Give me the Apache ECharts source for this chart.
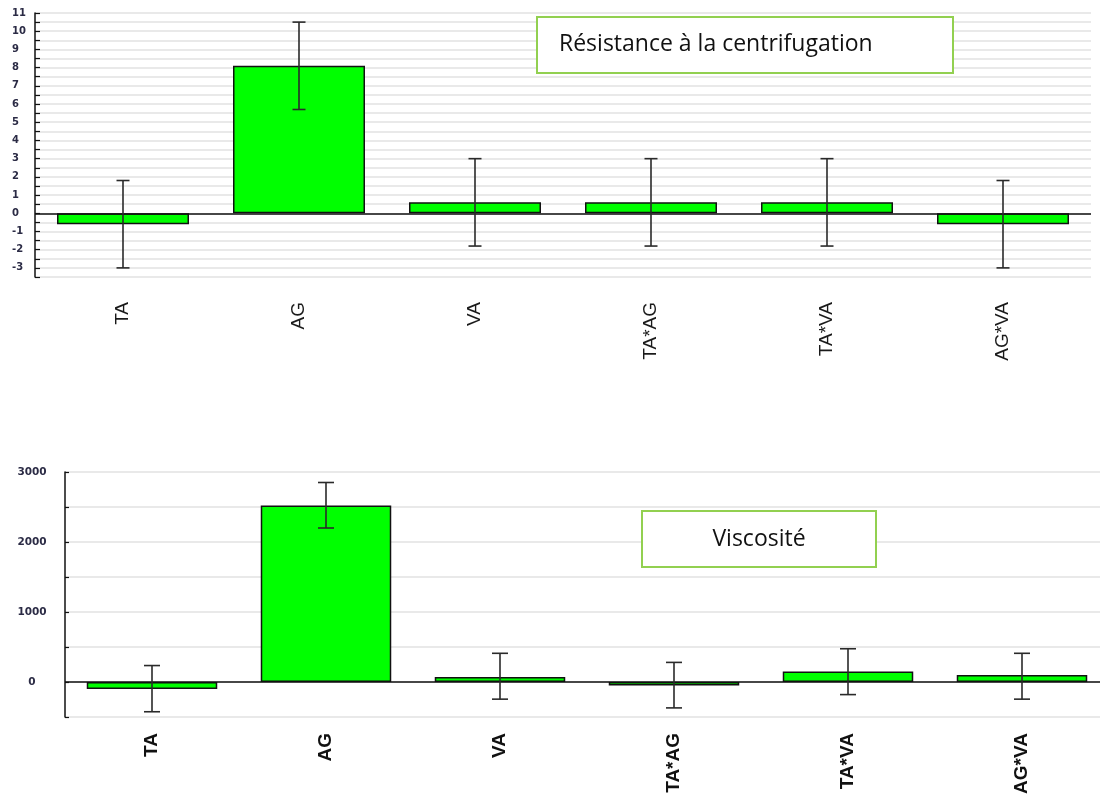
<!DOCTYPE html>
<html>
<head>
<meta charset="utf-8">
<script src="https://cdn.jsdelivr.net/npm/echarts@6/dist/echarts.min.js"></script>
<style>
html,body{margin:0;padding:0;background:#fff;}
#chart{width:1100px;height:804px;}
</style>
</head>
<body>
<div id="chart"></div>
<script>
// ---- data ----
const categories = ['TA', 'AG', 'VA', 'TA*AG', 'TA*VA', 'AG*VA'];

const resTitle = 'Résistance à la centrifugation';
const resValues = [-0.6, 8.1, 0.6, 0.6, 0.6, -0.6];
const resErrLow = [-3.0, 5.7, -1.8, -1.8, -1.8, -3.0];
const resErrHigh = [1.8, 10.5, 3.0, 3.0, 3.0, 1.8];

const viscTitle = 'Viscosité';
const viscValues = [-100, 2520, 70, -50, 150, 100];
const viscErrLow = [-425, 2200, -245, -370, -180, -245];
const viscErrHigh = [235, 2850, 410, 280, 475, 410];

// ---- chart ----
const chart = echarts.init(document.getElementById('chart'), null, {renderer: 'canvas'});

function errData(lo, hi) {
  return lo.map((v, i) => [i, v, hi[i]]);
}
function errRender(capW) {
  return function (params, api) {
    const i = api.value(0);
    const top = api.coord([i, api.value(2)]);
    const bot = api.coord([i, api.value(1)]);
    const st = {stroke: '#2a2a2a', lineWidth: 1.6};
    return {
      type: 'group',
      children: [
        {type: 'line', shape: {x1: top[0], y1: top[1], x2: bot[0], y2: bot[1]}, style: st},
        {type: 'line', shape: {x1: top[0] - capW / 2, y1: top[1], x2: top[0] + capW / 2, y2: top[1]}, style: st},
        {type: 'line', shape: {x1: bot[0] - capW / 2, y1: bot[1], x2: bot[0] + capW / 2, y2: bot[1]}, style: st}
      ]
    };
  };
}

const zeroLine = {
  silent: true,
  symbol: ['none', 'none'],
  label: {show: false},
  lineStyle: {color: '#111', width: 1.5, type: 'solid'},
  data: [{yAxis: 0}]
};

const barStyle = {color: '#00ff00', borderColor: '#111', borderWidth: 1.5};

// fit box title widths
const ctx = document.createElement('canvas').getContext('2d');
function fitSize(text, family, targetW) {
  ctx.font = '100px ' + family;
  const w = ctx.measureText(text).width;
  return 100 * targetW / w;
}
const boxFont = '"Open Sans", "Noto Sans", sans-serif';
const boxFontSize = Math.round(fitSize(resTitle, '"Open Sans"', 314) * 10) / 10;

const option = {
  animation: false,
  backgroundColor: '#fff',
  grid: [
    {left: 35, width: 1056, top: 13, height: 264, outerBoundsMode: 'none', containLabel: false},
    {left: 65, width: 1044, top: 472, height: 245, outerBoundsMode: 'none', containLabel: false}
  ],
  xAxis: [
    {
      type: 'category', gridIndex: 0, data: categories,
      axisLine: {show: false, onZero: false},
      axisTick: {show: false},
      axisLabel: {
        rotate: 90, margin: 25, color: '#1a1a1a',
        fontFamily: '"Liberation Sans", Arial, sans-serif', fontSize: 19
      }
    },
    {
      type: 'category', gridIndex: 1, data: categories,
      axisLine: {show: false, onZero: false},
      axisTick: {show: false},
      axisLabel: {
        rotate: 90, margin: 16, color: '#111', fontWeight: 'bold',
        fontFamily: '"Liberation Sans", Arial, sans-serif', fontSize: 19
      }
    }
  ],
  yAxis: [
    {
      type: 'value', gridIndex: 0, min: -3.5, max: 11, interval: 0.5,
      axisLine: {show: true, lineStyle: {color: '#111', width: 1.5}},
      axisTick: {show: true, inside: true, length: 5, lineStyle: {color: '#111', width: 1.2}},
      splitLine: {show: true, lineStyle: {color: '#e2e2e2', width: 1.5}},
      axisLabel: {
        margin: 23, align: 'left', color: '#2b2b45', fontWeight: 'bold',
        fontFamily: '"DejaVu Sans", sans-serif', fontSize: 10,
        formatter: v => (Number.isInteger(v) ? String(v) : '')
      }
    },
    {
      type: 'value', gridIndex: 1, min: -500, max: 3000, interval: 500,
      axisLine: {show: true, lineStyle: {color: '#111', width: 1.5}},
      axisTick: {show: true, inside: true, length: 4, lineStyle: {color: '#111', width: 1.2}},
      splitLine: {show: true, lineStyle: {color: '#e2e2e2', width: 1.5}},
      axisLabel: {
        margin: 33, align: 'center', color: '#2b2b45', fontWeight: 'bold',
        fontFamily: '"DejaVu Sans", sans-serif', fontSize: 10.5,
        formatter: v => (v >= 0 && v % 1000 === 0 ? String(v) : '')
      }
    }
  ],
  series: [
    {
      type: 'bar', xAxisIndex: 0, yAxisIndex: 0, data: resValues,
      barCategoryGap: '25%', itemStyle: barStyle, markLine: zeroLine, z: 2
    },
    {
      type: 'custom', xAxisIndex: 0, yAxisIndex: 0, data: errData(resErrLow, resErrHigh),
      renderItem: errRender(13), encode: {x: 0, y: [1, 2]}, z: 5
    },
    {
      type: 'bar', xAxisIndex: 1, yAxisIndex: 1, data: viscValues,
      barCategoryGap: '25%', itemStyle: barStyle, markLine: zeroLine, z: 2
    },
    {
      type: 'custom', xAxisIndex: 1, yAxisIndex: 1, data: errData(viscErrLow, viscErrHigh),
      renderItem: errRender(16), encode: {x: 0, y: [1, 2]}, z: 5
    }
  ],
  graphic: [
    {
      type: 'rect', z: 100,
      shape: {x: 537, y: 17, width: 416, height: 56},
      style: {fill: '#fff', stroke: '#92d050', lineWidth: 2}
    },
    {
      type: 'text', z: 101, x: 559, y: 44,
      style: {text: resTitle, font: boxFontSize + 'px ' + boxFont, fill: '#111', verticalAlign: 'middle', align: 'left'}
    },
    {
      type: 'rect', z: 100,
      shape: {x: 642, y: 511, width: 234, height: 56},
      style: {fill: '#fff', stroke: '#92d050', lineWidth: 2}
    },
    {
      type: 'text', z: 101, x: 759, y: 539,
      style: {text: viscTitle, font: boxFontSize + 'px ' + boxFont, fill: '#111', verticalAlign: 'middle', align: 'center'}
    }
  ]
};
chart.setOption(option);
</script>
</body>
</html>
